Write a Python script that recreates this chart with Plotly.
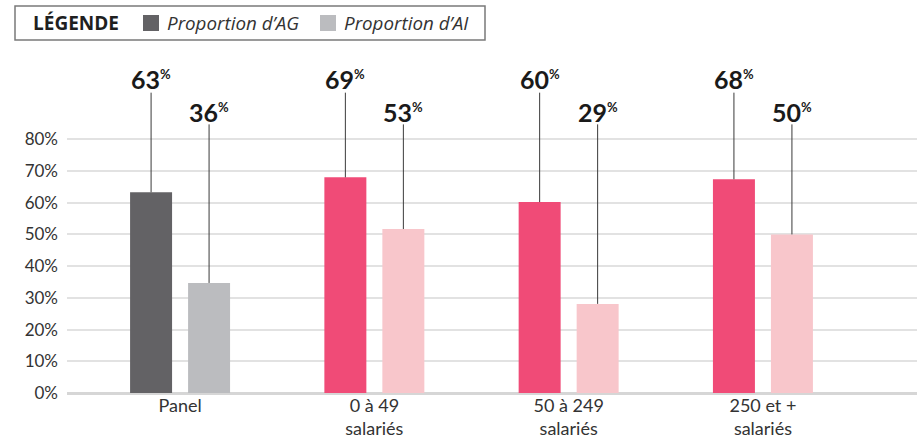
import plotly.graph_objects as go

# ---- data ----
categories = ["Panel", "0 à 49<br>salariés", "50 à 249<br>salariés", "250 et +<br>salariés"]
series_names = ["Proportion d’AG", "Proportion d’AI"]
ag_values = [63.3, 68.0, 60.2, 67.4]
ai_values = [34.7, 51.7, 28.1, 50.0]
ag_labels = [63, 69, 60, 68]
ai_labels = [36, 53, 29, 50]
y_ticks = [0, 10, 20, 30, 40, 50, 60, 70, 80]

# ---- style ----
AG_COLORS = ["#636265", "#f04b77", "#f04b77", "#f04b77"]
AI_COLORS = ["#bbbcbf", "#f8c6cb", "#f8c6cb", "#f8c6cb"]
LEGEND_COLORS = ["#636265", "#bbbcbf"]
TEXT = "#333333"
FONT = "Lato"
W, H = 917, 438
ML, MR, MT, MB = 67, 0, 60, 45
BARGAP, BARGROUPGAP = 0.403, 0.276
AG_LINE_TOP, AI_LINE_TOP = 94.7, 84.7
AG_LABEL_Y, AI_LABEL_Y = 99.0, 88.7

fig = go.Figure()
for vals, cols, name, top in [(ag_values, AG_COLORS, series_names[0], AG_LINE_TOP),
                              (ai_values, AI_COLORS, series_names[1], AI_LINE_TOP)]:
    fig.add_trace(go.Bar(
        x=categories, y=vals, name=name, marker=dict(color=cols, line=dict(width=0)),
        showlegend=False,
        error_y=dict(type="data", symmetric=False, array=[top - v for v in vals],
                     arrayminus=[0] * len(vals), width=0, thickness=1, color="#3a3a3a"),
    ))

off = (1 - BARGAP) / 4
annotations = []
for i in range(len(categories)):
    for lab, dx, yy in [(ag_labels[i], -off, AG_LABEL_Y), (ai_labels[i], off, AI_LABEL_Y)]:
        annotations.append(dict(
            x=i + dx, y=yy, xref="x", yref="y", showarrow=False,
            text=f"<b>{lab}</b><sup><span style='font-size:13px'><b>%</b></span></sup>",
            font=dict(family=FONT, size=25, color="#1a1a1a", weight=900),
            xanchor="center", yanchor="middle",
        ))

# ---- manual legend (pixel -> paper) ----
pw, ph = W - ML - MR, H - MT - MB
def px(xp):
    return (xp - ML) / pw
def py(yp):
    return (H - MB - yp) / ph

shapes = [dict(type="rect", xref="paper", yref="paper", x0=px(15), x1=px(485), y0=py(40), y1=py(6),
               line=dict(color="#7a7a7a", width=1.5), fillcolor="white", layer="above")]
annotations.append(dict(x=px(31), y=py(23), xref="paper", yref="paper", showarrow=False,
                        text="<b>LÉGENDE</b>", xanchor="left", yanchor="middle",
                        font=dict(family="Open Sans", size=19, color="#1f1f1f")))
for sx, tx, name, col in [(143, 165, series_names[0], LEGEND_COLORS[0]),
                          (320, 342, series_names[1], LEGEND_COLORS[1])]:
    shapes.append(dict(type="rect", xref="paper", yref="paper", x0=px(sx), x1=px(sx + 16),
                       y0=py(31), y1=py(15), fillcolor=col, line=dict(width=0), layer="above"))
    annotations.append(dict(x=px(tx), y=py(23), xref="paper", yref="paper", showarrow=False,
                            text=f"<i>{name}</i>", xanchor="left", yanchor="middle",
                            font=dict(family="Open Sans", size=18.8, color=TEXT)))

fig.update_layout(
    width=W, height=H, autosize=False,
    margin=dict(l=ML, r=MR, t=MT, b=MB),
    paper_bgcolor="white", plot_bgcolor="white",
    barmode="group", bargap=BARGAP, bargroupgap=BARGROUPGAP,
    font=dict(family=FONT, size=16, color=TEXT),
    xaxis=dict(range=[-0.582, 3.793], showgrid=False, zeroline=False, showline=False,
               ticks="", tickfont=dict(family=FONT, size=18, color=TEXT), fixedrange=True),
    yaxis=dict(range=[0, 105], tickvals=y_ticks, ticktext=[f"{v}%" for v in y_ticks],
               showgrid=True, gridcolor="#e2e2e2", gridwidth=2,
               zeroline=True, zerolinecolor="#d6d6d6", zerolinewidth=2.5,
               showline=False, ticks="", ticklabelstandoff=8,
               tickfont=dict(size=17, color=TEXT)),
    shapes=shapes, annotations=annotations,
)

fig.write_html("out.html")
